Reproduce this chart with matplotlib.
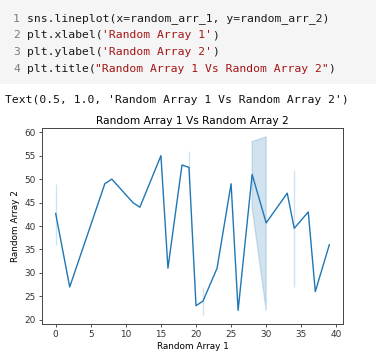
import matplotlib
matplotlib.use("Agg")
import matplotlib.pyplot as plt
import seaborn as sns

# values (repeated x values give the shaded bands)
random_arr_1 = [0, 0, 0, 2, 7, 8, 11, 12, 15, 16, 18, 19, 19, 20, 21, 21, 23, 25,
                26, 28, 28, 30, 30, 30, 33, 34, 34, 36, 37, 39]
random_arr_2 = [36, 43, 49, 27, 49, 50, 45, 44, 55, 31, 53, 49, 56, 23, 21, 27, 31, 49,
                22, 44, 58, 22, 41, 59, 47, 27, 52, 43, 26, 36]

code_lines = [
    [("sns.lineplot(x=random_arr_1, y=random_arr_2)", "code")],
    [("plt.xlabel(", "code"), ("'Random Array 1'", "str"), (")", "code")],
    [("plt.ylabel(", "code"), ("'Random Array 2'", "str"), (")", "code")],
    [("plt.title(", "code"), ('"Random Array 1 Vs Random Array 2"', "str"), (")", "code")],
]
out_text = "Text(0.5, 1.0, 'Random Array 1 Vs Random Array 2')"
colors = {"code": "#1a1a1a", "str": "#a31515", "num": "#7a7a7a"}

W, H = 376, 364
fig = plt.figure(figsize=(W / 100, H / 100), dpi=100)

def px(x, y):
    return x / W, 1 - y / H

# code cell background
fig.patches.append(plt.Rectangle((0, 1 - 84 / H), 1, 84 / H, transform=fig.transFigure,
                                 facecolor="#f5f5f5", edgecolor="none", zorder=0))

mono = "DejaVu Sans Mono"
fs = 8.2
cw = fs * 100 / 72 * 0.602  # char width in pixels

for i, parts in enumerate(code_lines):
    y = 18.5 + i * 16.7
    fig.text(*px(13, y), str(i + 1), family=mono, fontsize=fs, color=colors["num"],
             va="center", ha="left")
    x = 13 + 2 * cw
    for txt, kind in parts:
        fig.text(*px(x, y), txt, family=mono, fontsize=fs, color=colors[kind],
                 va="center", ha="left")
        x += len(txt) * cw

fig.text(*px(5, 100), out_text, family=mono, fontsize=fs, color="#111111",
         va="center", ha="left")

# the chart
ax = fig.add_axes([42 / W, 1 - 324 / H, 301 / W, 196 / H])
sns.lineplot(x=random_arr_1, y=random_arr_2, errorbar=("pi", 100), ax=ax,
             linewidth=1.0)
ax.set_xlabel('Random Array 1', fontsize=6.4, labelpad=2)
ax.set_ylabel('Random Array 2', fontsize=6.4, labelpad=3)
ax.set_title("Random Array 1 Vs Random Array 2", fontsize=7.7, pad=3)
ax.set_xticks([0, 5, 10, 15, 20, 25, 30, 35, 40])
ax.set_yticks([20, 25, 30, 35, 40, 45, 50, 55, 60])
ax.tick_params(labelsize=6.4, length=2.5, width=0.6, pad=2, colors="#333333")
for s in ax.spines.values():
    s.set_linewidth(0.7)
    s.set_color("#444444")

fig.savefig("out.png", dpi=100)
